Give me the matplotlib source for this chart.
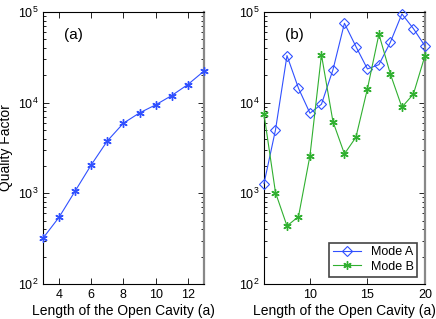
import numpy as np
import matplotlib.pyplot as plt
from matplotlib.ticker import LogLocator, NullFormatter

plt.rcParams['font.family'] = ['Liberation Sans', 'DejaVu Sans']
plt.rcParams['mathtext.fontset'] = 'custom'
plt.rcParams['mathtext.rm'] = 'Liberation Sans'

# panel (a)
len_a = [3, 4, 5, 6, 7, 8, 9, 10, 11, 12, 13]
q_a = [320, 545, 1060, 2060, 3780, 5930, 7700, 9440, 11960, 15800, 22200]

# panel (b)
len_b = [6, 7, 8, 9, 10, 11, 12, 13, 14, 15, 16, 17, 18, 19, 20]
q_mode_a = [1280, 5000, 33000, 14400, 7640, 9600, 23000, 75000,
            41500, 23500, 26200, 46400, 95000, 65500, 42200]
q_mode_b = [7450, 1020, 437, 553, 2600, 33600, 6180, 2720,
            4150, 14200, 56800, 20600, 8900, 12400, 32700]

blue = '#3050ff'
green = '#30b030'
asterisk = (6, 2, 0)

fig = plt.figure(figsize=(4.36, 3.19), dpi=100)
ax1 = fig.add_axes([0.0986, 0.1097, 0.369, 0.853])
ax2 = fig.add_axes([0.6055, 0.1097, 0.369, 0.853])

ax1.plot(len_a, q_a, '-', marker=asterisk, color=blue, lw=0.8, ms=6,
         mew=1.0, clip_on=False, zorder=3)
ax2.plot(len_b, q_mode_a, '-D', color=blue, lw=0.8, ms=5.5, mew=0.8,
         mfc='none', label='Mode A', clip_on=False, zorder=3)
ax2.plot(len_b, q_mode_b, '-', marker=asterisk, color=green, lw=0.8, ms=6,
         mew=1.0, label='Mode B', clip_on=False, zorder=3)

for ax in (ax1, ax2):
    ax.set_yscale('log')
    ax.set_ylim(1e2, 1e5)
    ax.yaxis.set_major_locator(LogLocator(base=10, numticks=10))
    ax.yaxis.set_minor_locator(LogLocator(base=10, subs=np.arange(2, 10), numticks=10))
    ax.yaxis.set_minor_formatter(NullFormatter())
    ax.tick_params(which='both', direction='in', top=True, right=True,
                   labelsize=9, width=0.6)
    ax.tick_params(which='major', length=4)
    ax.tick_params(which='minor', length=2)
    ax.set_xlabel('Length of the Open Cavity (a)', fontsize=10, labelpad=2)
    for s in ax.spines.values():
        s.set_linewidth(0.8)
    ax.spines['right'].set_color('#888888')
    ax.spines['right'].set_linewidth(1.6)

ax1.set_xlim(3, 13)
ax1.set_xticks([4, 6, 8, 10, 12])
ax1.set_ylabel('Quality Factor', fontsize=10, labelpad=3)
ax1.text(0.13, 0.9, '(a)', transform=ax1.transAxes, fontsize=11)

ax2.set_xlim(6, 20)
ax2.set_xticks([10, 15, 20])
ax2.text(0.13, 0.9, '(b)', transform=ax2.transAxes, fontsize=11)
leg = ax2.legend(loc='lower right', fontsize=9, fancybox=False,
                 framealpha=1, edgecolor='#444444', borderpad=0.3,
                 handlelength=2.2, labelspacing=0.2, borderaxespad=0.6)
leg.get_frame().set_linewidth(1.2)

fig.savefig('out.png', dpi=100)
